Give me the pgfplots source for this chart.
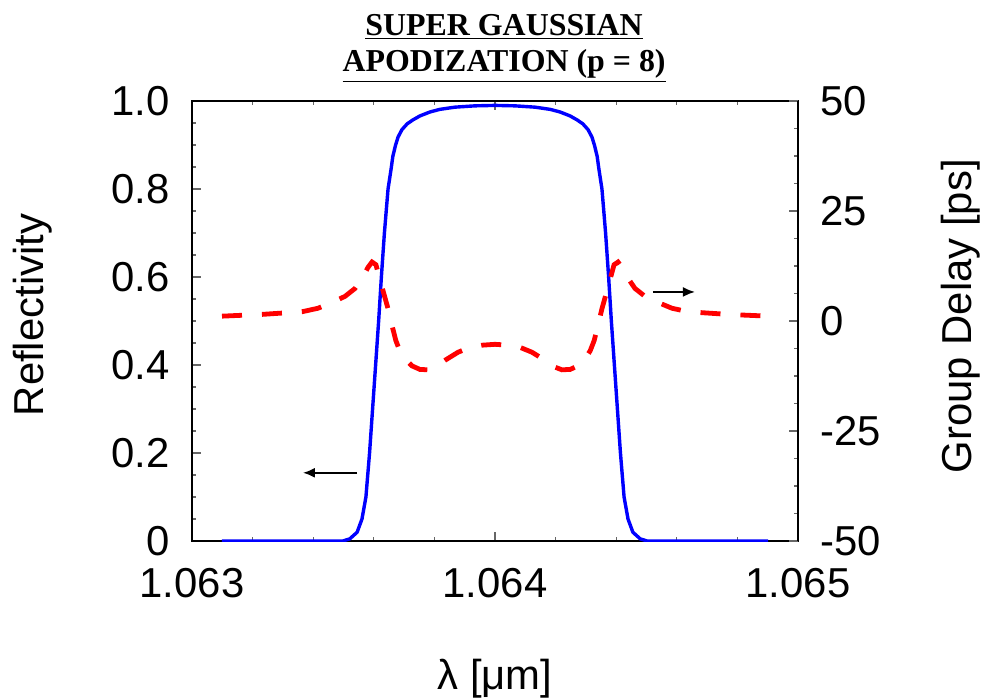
\documentclass[border=0pt]{standalone}
\usepackage{fontspec}
\setmainfont{Liberation Sans}
\newfontfamily\titlefont{Liberation Serif}
\usepackage{pgfplots}
\usepackage{pgfplotstable}
\pgfplotsset{compat=1.18}
\usetikzlibrary{arrows.meta}

% x = wavelength offset from 1.064 um, in nm (so -1 -> 1.063 um, +1 -> 1.065 um)
\pgfplotstableread{
x y
-0.901 0
-0.700 0
-0.502 0
-0.479 0.005
-0.455 0.02
-0.439 0.05
-0.426 0.10
-0.414 0.20
-0.404 0.30
-0.394 0.40
-0.384 0.50
-0.375 0.60
-0.365 0.70
-0.353 0.80
-0.343 0.845
-0.337 0.875
-0.328 0.90
-0.320 0.918
-0.307 0.935
-0.290 0.948
-0.271 0.957
-0.248 0.966
-0.215 0.975
-0.182 0.981
-0.132 0.986
-0.066 0.989
0 0.99
0.066 0.989
0.132 0.986
0.182 0.981
0.215 0.975
0.248 0.966
0.271 0.957
0.290 0.948
0.307 0.935
0.320 0.918
0.328 0.90
0.337 0.875
0.343 0.845
0.353 0.80
0.365 0.70
0.375 0.60
0.384 0.50
0.394 0.40
0.404 0.30
0.414 0.20
0.426 0.10
0.439 0.05
0.455 0.02
0.479 0.005
0.502 0
0.700 0
0.901 0
}\refl

\pgfplotstableread{
x y
-0.901 1.1
-0.835 1.3
-0.769 1.5
-0.703 1.8
-0.637 2.1
-0.584 2.9
-0.535 4.3
-0.495 5.6
-0.462 7.4
-0.436 10.0
-0.419 12.2
-0.406 13.4
-0.393 12.8
-0.380 9.5
-0.366 6.0
-0.353 2.8
-0.340 -1.0
-0.327 -4.5
-0.314 -6.8
-0.297 -8.6
-0.274 -10.2
-0.248 -11.0
-0.221 -11.1
-0.195 -10.4
-0.162 -8.8
-0.122 -7.1
-0.083 -6.0
-0.043 -5.5
0 -5.3
0.043 -5.5
0.083 -6.0
0.122 -7.1
0.162 -8.8
0.195 -10.4
0.221 -11.1
0.248 -11.0
0.274 -10.2
0.297 -8.6
0.314 -6.8
0.327 -4.5
0.340 -1.0
0.353 2.8
0.366 6.0
0.380 9.5
0.393 12.8
0.406 13.4
0.419 12.2
0.436 10.0
0.462 7.4
0.495 5.6
0.535 4.3
0.584 2.9
0.637 2.1
0.703 1.8
0.769 1.5
0.835 1.3
0.901 1.1
}\gd

\pgfplotsset{
  common/.style={
    at={(0,0)}, anchor=south west,
    scale only axis, width=303bp, height=220bp,
    xmin=-1, xmax=1,
    tick align=inside,
    major tick length=4.5bp, minor tick length=2bp,
    every tick/.style={black!60, line width=0.6bp},
    axis line style={line width=1bp},
    ticklabel style={font=\fontsize{21}{25}\selectfont, inner sep=0pt},
    label style={font=\fontsize{21}{25}\selectfont, inner sep=0pt},
  }
}

\begin{document}
\begin{tikzpicture}
\useasboundingbox (-96bp,-79.5bp) rectangle (399bp,270.5bp);
\begin{axis}[
  common,
  ymin=0, ymax=1,
  xtick={-1,0,1}, xticklabels={1.063,1.064,1.065},
  minor x tick num=4,
  ytick={0,0.2,0.4,0.6,0.8,1},
  yticklabels={0,0.2,0.4,0.6,0.8,1.0},
  minor y tick num=3,
  xtick pos=both, xticklabel pos=lower, ytick pos=left,
  xticklabel style={yshift=-13.5bp},
  yticklabel style={xshift=-11bp},
  xlabel={λ [μm]},
  xlabel style={at={(axis description cs:0.5,-0.3125)}, anchor=center},
  ylabel={Reflectivity},
  ylabel style={at={(axis description cs:-0.2624,0.5136)}, anchor=center},
  title={\underline{SUPER GAUSSIAN}\\[1.5bp]\underline{APODIZATION (p = 8)}},
  title style={at={(axis description cs:0.515,1.0136)}, anchor=south, align=center,
    font=\titlefont\bfseries\fontsize{16}{17}\selectfont, inner sep=0pt},
]
\addplot[blue, line width=1.7bp] table[x=x, y=y] {\refl};
\draw[line width=1bp, -{Latex[length=6bp,width=5bp]}] (axis cs:-0.455,0.155) -- (axis cs:-0.634,0.155);
\draw[line width=1bp, -{Latex[length=6bp,width=5bp]}] (axis cs:0.521,0.566) -- (axis cs:0.660,0.566);
\end{axis}
\begin{axis}[
  common,
  ymin=-50, ymax=50,
  axis x line=none, axis y line*=right,
  ytick={-50,-25,0,25,50},
  yticklabels={-50,-25,0,25,50},
  minor y tick num=3,
  yticklabel style={xshift=11bp},
  ylabel={Group Delay [ps]},
  ylabel style={at={(axis description cs:1.269,0.511)}, anchor=center},
]
\addplot[red, line width=2.4bp, dash pattern=on 10bp off 10bp] table[x=x, y=y] {\gd};
\end{axis}
\end{tikzpicture}
\end{document}
